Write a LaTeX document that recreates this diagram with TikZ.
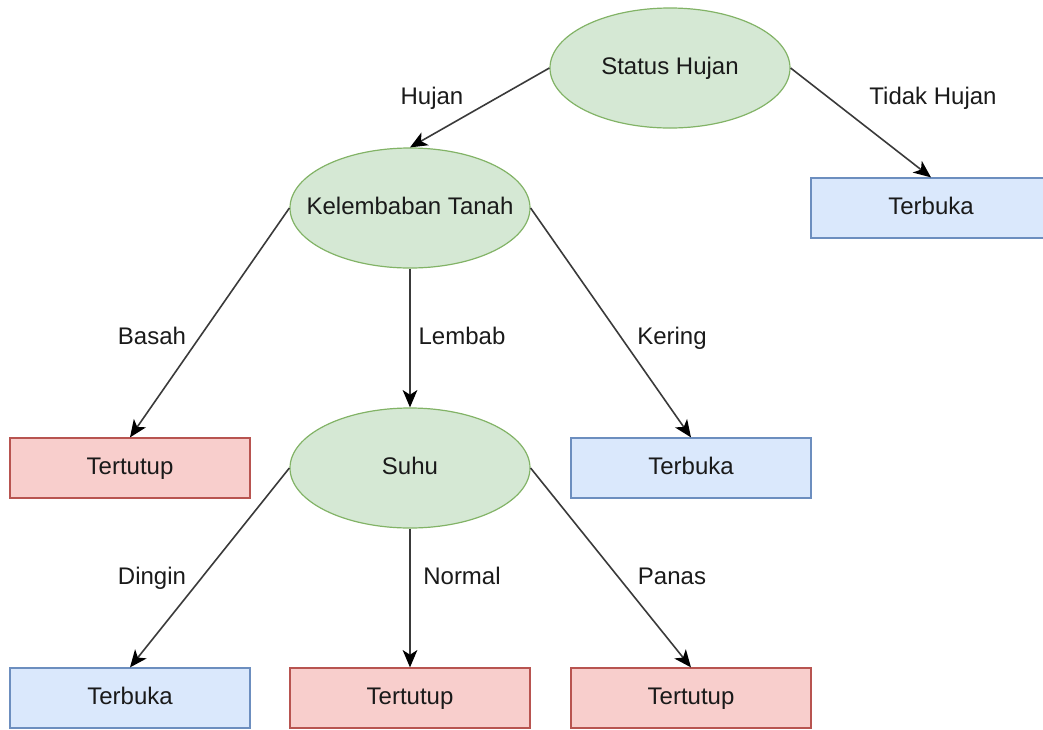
\documentclass[tikz,border=0pt]{standalone}
\usepackage{fontspec}
\setmainfont{Liberation Sans}
\usetikzlibrary{shapes.geometric,arrows.meta}
\definecolor{gfill}{HTML}{D5E8D4}\definecolor{gline}{HTML}{82B366}
\definecolor{bfill}{HTML}{DAE8FC}\definecolor{bline}{HTML}{6C8EBF}
\definecolor{rfill}{HTML}{F8CECC}\definecolor{rline}{HTML}{B85450}
\definecolor{edgec}{HTML}{3A3A3A}\definecolor{txt}{HTML}{1A1A1A}
\newcommand{\zerow}[1]{\makebox[0pt]{#1}}
\tikzset{
  every node/.style={font=\fontsize{18pt}{21pt}\selectfont, text=txt, text height=13pt, text depth=4pt},
  decision/.style={ellipse, draw=gline, fill=gfill, line width=0.9pt, minimum width=180pt, minimum height=90pt, inner sep=0pt},
  openbox/.style={rectangle, draw=bline, fill=bfill, line width=0.9pt, minimum width=180pt, minimum height=45pt, inner sep=0pt},
  closedbox/.style={rectangle, draw=rline, fill=rfill, line width=0.9pt, minimum width=180pt, minimum height=45pt, inner sep=0pt},
  edge/.style={draw=edgec, line width=1.2pt, -{Stealth[length=13pt,width=11pt,inset=3.5pt,color=black]}},
  elabel/.style={inner sep=0pt}
}
\begin{document}
\begin{tikzpicture}[x=0.75pt,y=-0.75pt]
\useasboundingbox (0,0) rectangle (1043,729);
\clip (0,0) rectangle (1043,729);
\node[decision] (sh) at (670,68) {\zerow{Status Hujan}};
\node[decision] (kt) at (410,208) {\zerow{Kelembaban Tanah}};
\node[decision] (su) at (410,468) {\zerow{Suhu}};
\node[openbox] (b1) at (931,208) {Terbuka};
\node[closedbox] (t1) at (130,468) {Tertutup};
\node[openbox] (b2) at (691,468) {Terbuka};
\node[openbox] (b3) at (130,698) {Terbuka};
\node[closedbox] (t2) at (410,698) {Tertutup};
\node[closedbox] (t3) at (691,698) {Tertutup};

\draw[edge] (sh.west) -- (kt.north);
\draw[edge] (sh.east) -- (b1.north);
\draw[edge] (kt.west) -- (t1.north);
\draw[edge] (kt.south) -- (su.north);
\draw[edge] (kt.east) -- (b2.north);
\draw[edge] (su.west) -- (b3.north);
\draw[edge] (su.south) -- (t2.north);
\draw[edge] (su.east) -- (t3.north);

\node[elabel] (l1) at (432,98) {Hujan};
\node[elabel] (l2) at (933,98) {Tidak Hujan};
\node[elabel] (l3) at (152,338) {Basah};
\node[elabel] (l4) at (462,338) {Lembab};
\node[elabel] (l5) at (672,338) {Kering};
\node[elabel] (l6) at (152,578) {Dingin};
\node[elabel] (l7) at (462,578) {Normal};
\node[elabel] (l8) at (672,578) {Panas};
\end{tikzpicture}
\end{document}
